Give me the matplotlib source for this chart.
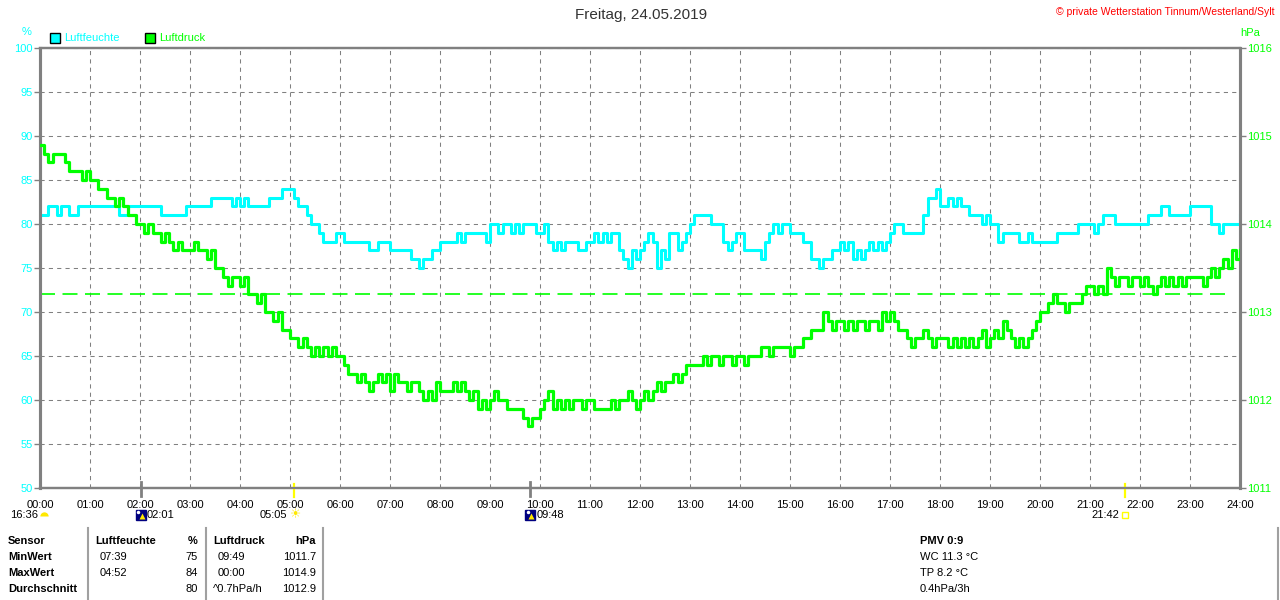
import matplotlib
matplotlib.use("Agg")
import matplotlib.pyplot as plt
from matplotlib.transforms import blended_transform_factory
import numpy as np

plt.rcParams['font.family'] = ['Liberation Sans', 'DejaVu Sans']

# Luftfeuchte in %, alle 5 Minuten (00:00 ... 24:00)
humidity = [
    81, 81, 82, 82, 81, 82, 82, 81, 81, 82, 82, 82,  # 00
    82, 82, 82, 82, 82, 82, 82, 81, 81, 82, 82, 82,  # 01
    82, 82, 82, 82, 82, 81, 81, 81, 81, 81, 81, 82,  # 02
    82, 82, 82, 82, 82, 83, 83, 83, 83, 83, 82, 83,  # 03
    82, 83, 82, 82, 82, 82, 82, 83, 83, 83, 84, 84,  # 04
    84, 83, 82, 82, 81, 80, 80, 79, 78, 78, 78, 79,  # 05
    79, 78, 78, 78, 78, 78, 78, 77, 77, 78, 78, 78,  # 06
    77, 77, 77, 77, 77, 76, 76, 75, 76, 76, 77, 77,  # 07
    78, 78, 78, 78, 79, 78, 79, 79, 79, 79, 79, 78,  # 08
    80, 80, 79, 80, 80, 79, 80, 79, 80, 80, 80, 79,  # 09
    79, 80, 78, 77, 78, 77, 78, 78, 78, 77, 77, 78,  # 10
    78, 79, 78, 79, 78, 79, 79, 77, 76, 75, 77, 76,  # 11
    77, 78, 79, 78, 75, 77, 76, 79, 79, 77, 78, 79,  # 12
    80, 81, 81, 81, 81, 80, 80, 80, 78, 77, 78, 79,  # 13
    79, 77, 77, 77, 77, 76, 78, 79, 80, 79, 80, 80,  # 14
    79, 79, 79, 78, 78, 76, 76, 75, 76, 76, 77, 77,  # 15
    78, 77, 78, 76, 77, 76, 77, 78, 77, 78, 77, 78,  # 16
    79, 80, 80, 79, 79, 79, 79, 79, 81, 83, 83, 84,  # 17
    82, 82, 83, 82, 83, 82, 82, 81, 81, 81, 80, 81,  # 18
    80, 80, 78, 79, 79, 79, 79, 78, 78, 79, 78, 78,  # 19
    78, 78, 78, 78, 79, 79, 79, 79, 79, 80, 80, 80,  # 20
    80, 79, 80, 81, 81, 81, 80, 80, 80, 80, 80, 80,  # 21
    80, 80, 81, 81, 81, 82, 82, 81, 81, 81, 81, 81,  # 22
    82, 82, 82, 82, 82, 80, 80, 79, 80, 80, 80, 80,  # 23
    81,
]

# Luftdruck in hPa, alle 5 Minuten
pressure = [
    1014.9, 1014.8, 1014.7, 1014.8, 1014.8, 1014.8, 1014.7, 1014.6, 1014.6, 1014.6, 1014.5, 1014.6,  # 00
    1014.5, 1014.5, 1014.4, 1014.4, 1014.3, 1014.3, 1014.2, 1014.3, 1014.2, 1014.1, 1014.1, 1014.0,  # 01
    1014.0, 1013.9, 1014.0, 1013.9, 1013.9, 1013.8, 1013.9, 1013.8, 1013.7, 1013.8, 1013.7, 1013.7,  # 02
    1013.7, 1013.8, 1013.7, 1013.7, 1013.6, 1013.7, 1013.5, 1013.5, 1013.4, 1013.3, 1013.4, 1013.4,  # 03
    1013.3, 1013.4, 1013.2, 1013.2, 1013.1, 1013.2, 1013.0, 1013.0, 1012.9, 1013.0, 1012.8, 1012.8,  # 04
    1012.7, 1012.7, 1012.6, 1012.7, 1012.6, 1012.5, 1012.6, 1012.5, 1012.6, 1012.5, 1012.6, 1012.5,  # 05
    1012.5, 1012.4, 1012.3, 1012.3, 1012.2, 1012.3, 1012.2, 1012.1, 1012.2, 1012.3, 1012.2, 1012.3,  # 06
    1012.1, 1012.3, 1012.2, 1012.2, 1012.1, 1012.2, 1012.2, 1012.1, 1012.0, 1012.1, 1012.0, 1012.2,  # 07
    1012.1, 1012.1, 1012.1, 1012.2, 1012.1, 1012.2, 1012.1, 1012.0, 1012.1, 1011.9, 1012.0, 1011.9,  # 08
    1012.0, 1012.1, 1012.0, 1012.0, 1011.9, 1011.9, 1011.9, 1011.9, 1011.8, 1011.7, 1011.8, 1011.8,  # 09
    1011.9, 1012.0, 1012.1, 1011.9, 1012.0, 1011.9, 1012.0, 1011.9, 1012.0, 1012.0, 1011.9, 1012.0,  # 10
    1012.0, 1011.9, 1011.9, 1011.9, 1011.9, 1012.0, 1011.9, 1012.0, 1012.0, 1012.1, 1012.0, 1011.9,  # 11
    1012.0, 1012.1, 1012.0, 1012.1, 1012.2, 1012.1, 1012.2, 1012.2, 1012.3, 1012.2, 1012.3, 1012.4,  # 12
    1012.4, 1012.4, 1012.4, 1012.5, 1012.4, 1012.5, 1012.5, 1012.4, 1012.5, 1012.5, 1012.4, 1012.5,  # 13
    1012.5, 1012.4, 1012.5, 1012.5, 1012.5, 1012.6, 1012.6, 1012.5, 1012.6, 1012.6, 1012.6, 1012.6,  # 14
    1012.5, 1012.6, 1012.6, 1012.7, 1012.7, 1012.8, 1012.8, 1012.8, 1013.0, 1012.9, 1012.8, 1012.9,  # 15
    1012.9, 1012.8, 1012.9, 1012.8, 1012.9, 1012.9, 1012.8, 1012.9, 1012.9, 1012.8, 1013.0, 1012.9,  # 16
    1013.0, 1012.9, 1012.8, 1012.8, 1012.7, 1012.6, 1012.7, 1012.7, 1012.8, 1012.7, 1012.6, 1012.7,  # 17
    1012.7, 1012.7, 1012.6, 1012.7, 1012.6, 1012.7, 1012.6, 1012.7, 1012.6, 1012.7, 1012.8, 1012.6,  # 18
    1012.7, 1012.8, 1012.7, 1012.9, 1012.8, 1012.7, 1012.6, 1012.7, 1012.6, 1012.7, 1012.8, 1012.9,  # 19
    1013.0, 1013.0, 1013.1, 1013.2, 1013.1, 1013.1, 1013.0, 1013.1, 1013.1, 1013.1, 1013.2, 1013.3,  # 20
    1013.3, 1013.2, 1013.3, 1013.2, 1013.5, 1013.4, 1013.3, 1013.4, 1013.4, 1013.3, 1013.4, 1013.4,  # 21
    1013.3, 1013.4, 1013.3, 1013.2, 1013.3, 1013.4, 1013.3, 1013.4, 1013.3, 1013.4, 1013.3, 1013.4,  # 22
    1013.4, 1013.4, 1013.4, 1013.3, 1013.4, 1013.5, 1013.4, 1013.5, 1013.6, 1013.5, 1013.7, 1013.6,  # 23
    1013.7,
]

pressure_ref = 1013.2

hour_labels = ["%02d:00" % h for h in range(25)]
hum_ticks = [50, 55, 60, 65, 70, 75, 80, 85, 90, 95, 100]
hpa_ticks = [1011, 1012, 1013, 1014, 1015, 1016]

sun_events = ["05:05", "21:42"]
moon_events = ["02:01", "09:48"]

table_rows = [
    ["Sensor", "Luftfeuchte", "%", "Luftdruck", "hPa"],
    ["MinWert", "07:39", "75", "09:49", "1011.7"],
    ["MaxWert", "04:52", "84", "00:00", "1014.9"],
    ["Durchschnitt", "", "80", "^0.7hPa/h", "1012.9"],
]
extra_info = ["PMV 0:9", "WC 11.3 °C", "TP 8.2 °C", "0.4hPa/3h"]

CYAN = '#00FFFF'
GREEN = '#00FF00'
GRAY = '#808080'

W, H = 1280, 600


def fx(px):
    return px / W


def fy(py):
    return 1 - py / H


def to_hours(s):
    hh, mm = s.split(":")
    return int(hh) + int(mm) / 60


fig = plt.figure(figsize=(12.8, 6), dpi=100)
ax = fig.add_axes([fx(40), fy(488), 1200 / W, 440 / H])
ax2 = ax.twinx()

t_hum = np.arange(len(humidity)) * 5 / 60
t_p = np.arange(len(pressure)) * 5 / 60

ax.plot(t_hum, humidity, color=CYAN, lw=2.2, drawstyle='steps-post', zorder=3)
ax2.plot(t_p, pressure, color=GREEN, lw=2.3, drawstyle='steps-post', zorder=3)
ax2.axhline(pressure_ref, xmin=0, xmax=0.992, color=GREEN, lw=1.2, dashes=(9, 4.5), zorder=2)

ax.set_xlim(0, 24)
ax.set_ylim(50, 100)
ax2.set_ylim(1011, 1016)

ax.set_xticks(range(25))
ax.set_xticklabels(hour_labels)
ax.set_yticks(hum_ticks)
ax2.set_yticks(hpa_ticks)
ax2.set_yticklabels([str(v) for v in hpa_ticks])

ax.grid(True, color=GRAY, linestyle=(0, (4, 4)), linewidth=0.75, zorder=0)
ax.set_axisbelow(True)

ax.tick_params(axis='x', length=0, pad=9, labelsize=8, labelcolor='black')
ax.tick_params(axis='y', length=4, width=1, color=GRAY, labelcolor=CYAN, labelsize=8, pad=1)
ax2.tick_params(axis='y', length=4, width=1, color=GRAY, labelcolor=GREEN, labelsize=8, pad=1)

for a in (ax, ax2):
    for side, sp in a.spines.items():
        sp.set_color(GRAY)
        sp.set_linewidth(2.2 if side in ('left', 'right') else 1.6)

# Achsenbeschriftung, Legende, Titel
fig.text(fx(27), fy(32), "%", color=CYAN, fontsize=8, ha='center', va='center')
fig.text(fx(1250), fy(33), "hPa", color=GREEN, fontsize=8, ha='center', va='center')
fig.text(fx(641), fy(15), "Freitag, 24.05.2019", color='#333333', fontsize=11, ha='center', va='center')
fig.text(fx(1275), fy(12), "© private Wetterstation Tinnum/Westerland/Sylt", color='red',
         fontsize=7.5, ha='right', va='center')

legend = [("Luftfeuchte", CYAN, 55), ("Luftdruck", GREEN, 150)]
for name, col, px in legend:
    fig.patches.append(plt.Rectangle((fx(px - 5), fy(43)), 10 / W, 10 / H, transform=fig.transFigure,
                                     facecolor=col, edgecolor='black', lw=1))
    fig.text(fx(px + 9), fy(38), name, color=col, fontsize=8, ha='left', va='center')

# Sonne / Mond unter der Zeitachse
trans = blended_transform_factory(ax.transData, fig.transFigure)
y_ev = fy(515)
for s in sun_events:
    h = to_hours(s)
    ax.plot([h, h], [fy(484), fy(497)], color='#FFFF00', lw=1.6, transform=trans, clip_on=False, zorder=5)
for s in moon_events:
    h = to_hours(s)
    ax.plot([h, h], [fy(482), fy(496)], color=GRAY, lw=2.0, transform=trans, clip_on=False, zorder=5)

# Sonnenaufgang
h = to_hours(sun_events[0])
fig.text(fx(40 + h * 50 + 1), y_ev, "☀", color='#FFE800', fontsize=9, ha='center', va='center',
         family='DejaVu Sans')
ax.annotate(sun_events[0], xy=(h, y_ev), xycoords=trans, xytext=(-5, 0), textcoords='offset points',
            ha='right', va='center', fontsize=8)
# Sonnenuntergang
h = to_hours(sun_events[1])
ax.plot([h], [y_ev], marker='s', ms=4.5, mfc='none', mec='#FFFF00', mew=1, transform=trans, clip_on=False)
ax.annotate(sun_events[1], xy=(h, y_ev), xycoords=trans, xytext=(-4, 0), textcoords='offset points',
            ha='right', va='center', fontsize=8)
# Mond
for s in moon_events:
    h = to_hours(s)
    ax.plot([h], [y_ev], marker='s', ms=7.2, mfc='#000080', mec='#000080', transform=trans, clip_on=False)
    ax.plot([h + 0.02], [y_ev - 0.002], marker='^', ms=4, mfc='#FFE800', mec='none', transform=trans,
            clip_on=False)
    ax.plot([h - 0.05], [y_ev + 0.005], marker='o', ms=2.5, mfc='white', mec='none', transform=trans,
            clip_on=False)
    ax.annotate(s, xy=(h, y_ev), xycoords=trans, xytext=(4.5, 0), textcoords='offset points',
                ha='left', va='center', fontsize=8)
# Mond vom Vortag
fig.text(fx(38), y_ev, "16:36", fontsize=8, ha='right', va='center')
fig.lines.append(plt.Line2D([fx(44)], [fy(516)], marker='o', ms=6, fillstyle='top', mfc='#FFE800',
                            mfcalt='none', mec='none', transform=fig.transFigure))

# Tabelle
row_y = [541, 557, 573, 589]
for i, row in enumerate(table_rows):
    y = fy(row_y[i])
    bold = 'bold' if i == 0 else 'normal'
    fig.text(fx(8), y, row[0], fontsize=8, fontweight='bold', ha='left', va='center')
    fig.text(fx(95 if i == 0 else 100), y, row[1], fontsize=8, fontweight=bold, ha='left', va='center')
    fig.text(fx(198), y, row[2], fontsize=8, fontweight=bold, ha='right', va='center')
    fig.text(fx(213 if (i == 0 or i == 3) else 218), y, row[3], fontsize=8, fontweight=bold,
             ha='left', va='center')
    fig.text(fx(316), y, row[4], fontsize=8, fontweight=bold, ha='right', va='center')

for xp in (88, 206, 323, 1278):
    fig.lines.append(plt.Line2D([fx(xp), fx(xp)], [fy(528), fy(600)], color='#A0A0A0', lw=1.5,
                                transform=fig.transFigure))

for i, txt in enumerate(extra_info):
    fig.text(fx(920), fy(row_y[i]), txt, fontsize=8, fontweight='bold' if i == 0 else 'normal',
             ha='left', va='center')

fig.savefig("out.png", dpi=100, facecolor='white')
